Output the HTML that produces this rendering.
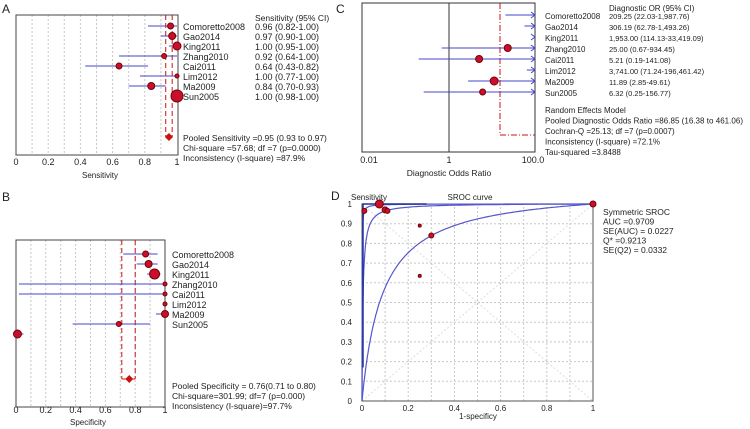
<!DOCTYPE html>
<html><head><meta charset="utf-8"><style>
body{margin:0;background:#fff;}
svg{display:block;font-family:"Liberation Sans",Arial,sans-serif;}
text{fill:#222;}
</style></head><body>
<svg id="s" width="750" height="429" viewBox="0 0 750 429">
<text x="2" y="13" font-size="12">A</text>
<text x="2" y="201" font-size="12">B</text>
<text x="336" y="13" font-size="12">C</text>
<text x="331" y="200" font-size="12">D</text>
</svg>
<script>
const studies=["Comoretto2008","Gao2014","King2011","Zhang2010","Cai2011","Lim2012","Ma2009","Sun2005"];
const sensVal=[0.96,0.97,1.00,0.92,0.64,1.00,0.84,1.00];
const sensLo=[0.82,0.90,0.95,0.64,0.43,0.77,0.70,0.98];
const sensHi=[1.00,1.00,1.00,1.00,0.82,1.00,0.93,1.00];
const sensR=[3,3.5,4,2.5,3,2,3.5,6];
const sensText=["0.96 (0.82-1.00)","0.97 (0.90-1.00)","1.00 (0.95-1.00)","0.92 (0.64-1.00)","0.64 (0.43-0.82)","1.00 (0.77-1.00)","0.84 (0.70-0.93)","1.00 (0.98-1.00)"];
const sensPooled=[0.95,0.93,0.97];
const specVal=[0.87,0.89,0.93,1.00,1.00,1.00,1.00,0.69,0.01];
const specLo=[0.72,0.81,0.88,0.02,0.02,0.99,0.94,0.38,0.00];
const specHi=[0.95,0.95,0.97,1.00,1.00,1.00,1.00,0.90,0.05];
const specR=[3,3.5,5,2,2,2,3.5,2.5,4];
const specPooled=[0.76,0.71,0.80];
const dorVal=[209.25,306.19,1953,25,5.21,3741,11.89,6.32];
const dorLo=[22.03,62.78,114.13,0.67,0.19,71.24,2.85,0.25];
const dorR=[0,0,0,3.5,3.5,0,4,3];
const dorText=["209.25 (22.03-1,987.76)","306.19 (62.78-1,493.26)","1,953.00 (114.13-33,419.09)","25.00 (0.67-934.45)","5.21 (0.19-141.08)","3,741.00 (71.24-196,461.42)","11.89 (2.85-49.61)","6.32 (0.25-156.77)"];
const dorPooledLine=[16.38];
const srocFpr=[0.01,0.075,0.10,0.11,0.25,0.30,0.25,1.0];
const srocSens=[0.965,1.0,0.97,0.965,0.89,0.84,0.635,1.0];
const srocR=[2.5,4,3,2.5,1.5,2.5,1.5,3];
const curveLnDOR=[7.8,5.5,2.5];

const s=document.getElementById('s');const NS='http://www.w3.org/2000/svg';
function el(t,a,txt){const e=document.createElementNS(NS,t);for(const k in a)e.setAttribute(k,a[k]);if(txt!==undefined)e.textContent=txt;s.appendChild(e);return e;}
const DOT='#c8c8c8',BL='#4444cc',RD='#cc1111';

// ---- Panel A
const ax=v=>16+v*161, ay=i=>26+i*10;
for(let k=1;k<10;k++){const g=el('line',{x1:ax(k/10),x2:ax(k/10),y1:15,y2:155,stroke:DOT,'stroke-dasharray':'2,2'});}
let r=el('rect',{x:16,y:15,width:162,height:140,fill:'none',stroke:'#444'});
[sensPooled[1],sensPooled[2]].forEach(v=>{const l=el('line',{x1:ax(v),x2:ax(v),y1:15,y2:137,stroke:RD,'stroke-dasharray':'5,3'});});
studies.forEach((n,i)=>{
 const l=el('line',{x1:ax(sensLo[i]),x2:ax(sensHi[i]),y1:ay(i),y2:ay(i),stroke:BL});
 const c=el('circle',{cx:ax(sensVal[i]),cy:ay(i),r:sensR[i],fill:'#c8102e',stroke:'#700'});
 const t=el('text',{x:183,y:ay(i)+4,'font-size':9},n);
 const t2=el('text',{x:255,y:ay(i)+4,'font-size':9},sensText[i]);
});
let d=el('path',{d:`M${ax(sensPooled[0])-4},137 L${ax(sensPooled[0])},133 L${ax(sensPooled[0])+4},137 L${ax(sensPooled[0])},141Z`,fill:RD});
[0,0.2,0.4,0.6,0.8,1].forEach(v=>{const t=el('text',{x:ax(v),y:165,'font-size':9,'text-anchor':'middle'},String(v));});
let t=el('text',{x:100,y:178,'font-size':8,'text-anchor':'middle'},'Sensitivity');
t=el('text',{x:255,y:21,'font-size':8.5},'Sensitivity (95% CI)');
['Pooled Sensitivity =0.95 (0.93 to 0.97)','Chi-square =57.68; df =7 (p=0.0000)','Inconsistency (I-square) =87.9%'].forEach((x,i)=>{const q=el('text',{x:183,y:141+i*10,'font-size':8.5},x);});

// ---- Panel B
const bx=v=>16+v*149, by=i=>254+i*10;
for(let k=1;k<10;k++){const g=el('line',{x1:bx(k/10),x2:bx(k/10),y1:240,y2:407,stroke:DOT,'stroke-dasharray':'2,2'});}
r=el('rect',{x:16,y:240,width:149,height:167,fill:'none',stroke:'#444'});
[specPooled[1],specPooled[2]].forEach(v=>{const l=el('line',{x1:bx(v),x2:bx(v),y1:240,y2:379,stroke:RD,'stroke-dasharray':'5,3'});});
let hb=el('path',{d:`M${bx(specPooled[1])},379 H${bx(specPooled[2])}`,stroke:RD,fill:'none'});
specVal.forEach((v,i)=>{
 const n=studies[i]||'extra';
 const l=el('line',{x1:bx(specLo[i]),x2:bx(specHi[i]),y1:by(i),y2:by(i),stroke:BL});
 const c=el('circle',{cx:bx(v),cy:by(i),r:specR[i],fill:'#c8102e',stroke:'#700'});
 if(studies[i]){const q=el('text',{x:172,y:by(i)+4,'font-size':9},n);}
});
d=el('path',{d:`M${bx(specPooled[0])-4},379 L${bx(specPooled[0])},375 L${bx(specPooled[0])+4},379 L${bx(specPooled[0])},383Z`,fill:RD});
[0,0.2,0.4,0.6,0.8,1].forEach(v=>{const q=el('text',{x:bx(v),y:413,'font-size':9,'text-anchor':'middle'},String(v));});
t=el('text',{x:88,y:425,'font-size':8,'text-anchor':'middle'},'Specificity');
['Pooled Specificity = 0.76(0.71 to 0.80)','Chi-square=301.99; df=7 (p=0.000)','Inconsistency (I-square)=97.7%'].forEach((x,i)=>{const q=el('text',{x:172,y:389+i*10,'font-size':8.5},x);});

// ---- Panel C
const cx=v=>449+42*Math.log10(v), cy=i=>15+i*11, CR=535;
r=el('rect',{x:362,y:3,width:173,height:149,fill:'none',stroke:'#333'});
let ln=el('line',{x1:cx(1),x2:cx(1),y1:3,y2:152,stroke:'#333'});
let pl=el('path',{d:`M${cx(dorPooledLine[0])},3 V135 H${CR}`,stroke:RD,fill:'none','stroke-dasharray':'6,2,1,2'});
studies.forEach((n,i)=>{
 const x1=Math.max(362,cx(dorLo[i]));
 const l=el('line',{x1:x1,x2:CR-1,y1:cy(i),y2:cy(i),stroke:BL});
 const a=el('path',{d:`M${CR-4},${cy(i)-3} L${CR},${cy(i)} L${CR-4},${cy(i)+3}`,stroke:BL,fill:'none'});
 if(dorR[i]>0&&cx(dorVal[i])<CR){const c=el('circle',{cx:cx(dorVal[i]),cy:cy(i),r:dorR[i],fill:'#c8102e',stroke:'#700'});}
 const q=el('text',{x:545,y:cy(i)+4,'font-size':8},n);
 const q2=el('text',{x:609,y:cy(i)+4,'font-size':7.5},dorText[i]);
});
t=el('text',{x:609,y:11,'font-size':8},'Diagnostic OR (95% CI)');
[['0.01',0.01],['1',1],['100.0',100]].forEach(([l,v])=>{const q=el('text',{x:v===0.01?369:cx(v),y:163,'font-size':9,'text-anchor':'middle'},l);});
t=el('text',{x:449,y:176,'font-size':8.5,'text-anchor':'middle'},'Diagnostic Odds Ratio');
['Random Effects Model','Pooled Diagnostic Odds Ratio =86.85 (16.38 to 461.06)','Cochran-Q =25.13; df =7 (p=0.0007)','Inconsistency (I-square) =72.1%','Tau-squared =3.8488'].forEach((x,i)=>{const q=el('text',{x:545,y:113+i*10.5,'font-size':8,textLength:i==1?198:null});if(i!==1)q.removeAttribute('textLength');q.textContent=x;});

// ---- Panel D
const dx=v=>362+v*231, dy=v=>401-v*197;
for(let k=1;k<10;k++){
 const g=el('line',{x1:dx(k/10),x2:dx(k/10),y1:dy(0),y2:dy(1),stroke:DOT,'stroke-dasharray':'2,2'});
 const h=el('line',{x1:dx(0),x2:dx(1),y1:dy(k/10),y2:dy(k/10),stroke:DOT,'stroke-dasharray':'2,2'});
}
let dg=el('line',{x1:dx(0),y1:dy(0),x2:dx(1),y2:dy(1),stroke:'#ddd','stroke-dasharray':'2,2'});
dg=el('line',{x1:dx(0),y1:dy(1),x2:dx(1),y2:dy(0),stroke:'#ddd','stroke-dasharray':'2,2'});
r=el('rect',{x:362,y:204,width:231,height:197,fill:'none',stroke:'#555'});
curveLnDOR.forEach((D,j)=>{let p='';for(let k=0;k<=200;k++){const f=Math.pow(k/200,2.5);const lf=Math.log(Math.max(f,1e-6)/(1-Math.min(f,0.999999)));const sv=1/(1+Math.exp(-(D+lf)));p+=(k?'L':'M')+dx(f).toFixed(1)+','+dy(sv).toFixed(1);}
 const c=el('path',{d:p,stroke:'#5555cc',fill:'none','stroke-width':1.2});});
let vl=el('path',{d:`M${dx(0)+1},${dy(0.17)} V${dy(1)} H${dx(0.28)}`,stroke:'#223399',fill:'none','stroke-width':1.5});
vl=el('line',{x1:dx(0.28),x2:dx(1),y1:dy(1),y2:dy(1),stroke:'#5555cc'});
srocFpr.forEach((f,i)=>{const c=el('circle',{cx:dx(f),cy:dy(srocSens[i]),r:srocR[i],fill:'#c8102e',stroke:'#700'});});
for(let k=0;k<=10;k++){const q=el('text',{x:352,y:dy(k/10)+3,'font-size':8,'text-anchor':'end'},k===0?'0':k===10?'1':(k/10).toFixed(1));}
[0,0.2,0.4,0.6,0.8,1].forEach(v=>{const q=el('text',{x:dx(v),y:411,'font-size':8,'text-anchor':'middle'},String(v));});
t=el('text',{x:478,y:419,'font-size':8,'text-anchor':'middle'},'1-specificy');
t=el('text',{x:351,y:200,'font-size':8},'Sensitivity');
t=el('text',{x:470,y:200,'font-size':8,'text-anchor':'middle'},'SROC curve');
['Symmetric SROC','AUC =0.9709','SE(AUC) = 0.0227','Q* =0.9213','SE(Q2) = 0.0332'].forEach((x,i)=>{const q=el('text',{x:603,y:215+i*9.5,'font-size':8.5},x);});
</script>
</body></html>
